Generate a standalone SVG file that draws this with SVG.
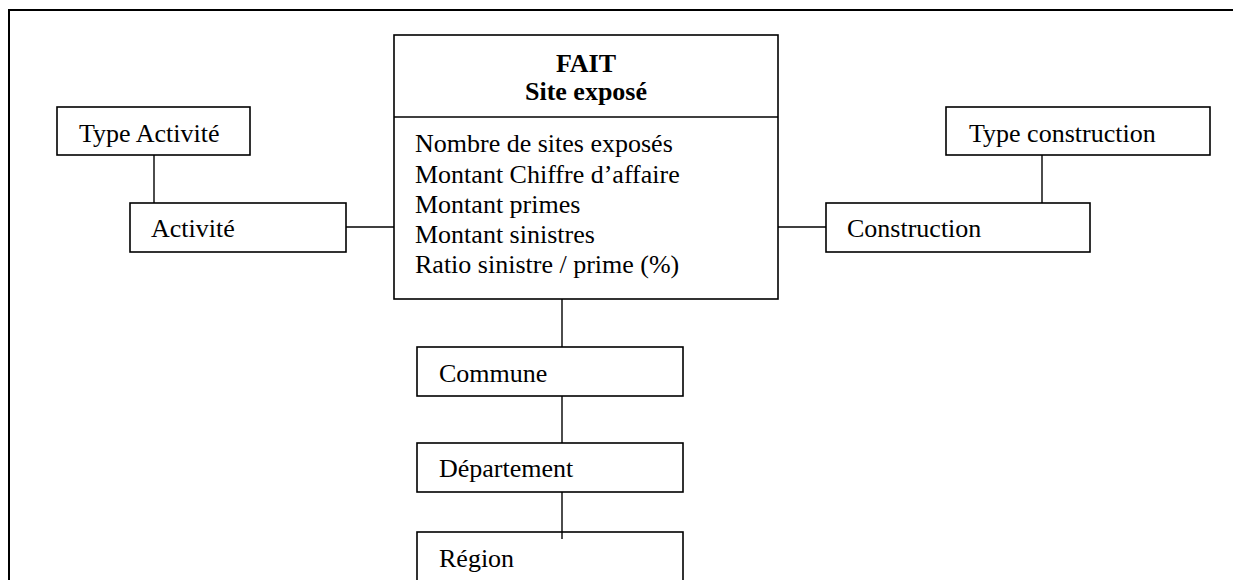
<svg xmlns="http://www.w3.org/2000/svg" width="1233" height="580" viewBox="0 0 1233 580">
<style>
.box{fill:#fff;stroke:#000;stroke-width:1.6}
.con{stroke:#000;stroke-width:1.4;fill:none}
text{font-family:"Liberation Serif","Times New Roman",serif;font-size:26px;fill:#000}
.b{font-weight:bold;text-anchor:middle}
</style>
<rect width="1233" height="580" fill="#fff"/>
<rect id="frame" x="9" y="10" width="1240" height="590" fill="none" stroke="#000" stroke-width="2"/>
<g id="connectors">
<line class="con" x1="154" y1="155" x2="154" y2="203"/>
<line class="con" x1="346" y1="227" x2="394" y2="227"/>
<line class="con" x1="778" y1="227" x2="826" y2="227"/>
<line class="con" x1="1042" y1="155" x2="1042" y2="203"/>
<line class="con" x1="562" y1="299" x2="562" y2="347"/>
<line class="con" x1="562" y1="396" x2="562" y2="443"/>
<line class="con" x1="562" y1="492" x2="562" y2="539"/>
</g>
<g id="fait">
<rect class="box" x="394" y="35" width="384" height="264"/>
<line class="con" x1="394" y1="117" x2="778" y2="117" stroke-width="1.6"/>
<text class="b" x="586" y="72">FAIT</text>
<text class="b" x="586" y="100">Site exposé</text>
<text x="415" y="152">Nombre de sites exposés</text>
<text x="415" y="183">Montant Chiffre d’affaire</text>
<text x="415" y="213">Montant primes</text>
<text x="415" y="243">Montant sinistres</text>
<text x="415" y="273">Ratio sinistre / prime (%)</text>
</g>
<g id="type-activite">
<rect class="box" x="57" y="107" width="193" height="48"/>
<text x="79" y="142">Type Activité</text>
</g>
<g id="activite">
<rect class="box" x="130" y="203" width="216" height="49"/>
<text x="151" y="237">Activité</text>
</g>
<g id="type-construction">
<rect class="box" x="946" y="107" width="264" height="48"/>
<text x="969" y="142">Type construction</text>
</g>
<g id="construction">
<rect class="box" x="826" y="203" width="264" height="49"/>
<text x="847" y="237">Construction</text>
</g>
<g id="commune">
<rect class="box" x="417" y="347" width="266" height="49"/>
<text x="439" y="382">Commune</text>
</g>
<g id="departement">
<rect class="box" x="417" y="443" width="266" height="49"/>
<text x="439" y="477">Département</text>
</g>
<g id="region">
<rect class="box" x="417" y="532" width="266" height="60"/>
<line class="con" x1="562" y1="532" x2="562" y2="539"/>
<text x="439" y="567">Région</text>
</g>
</svg>
